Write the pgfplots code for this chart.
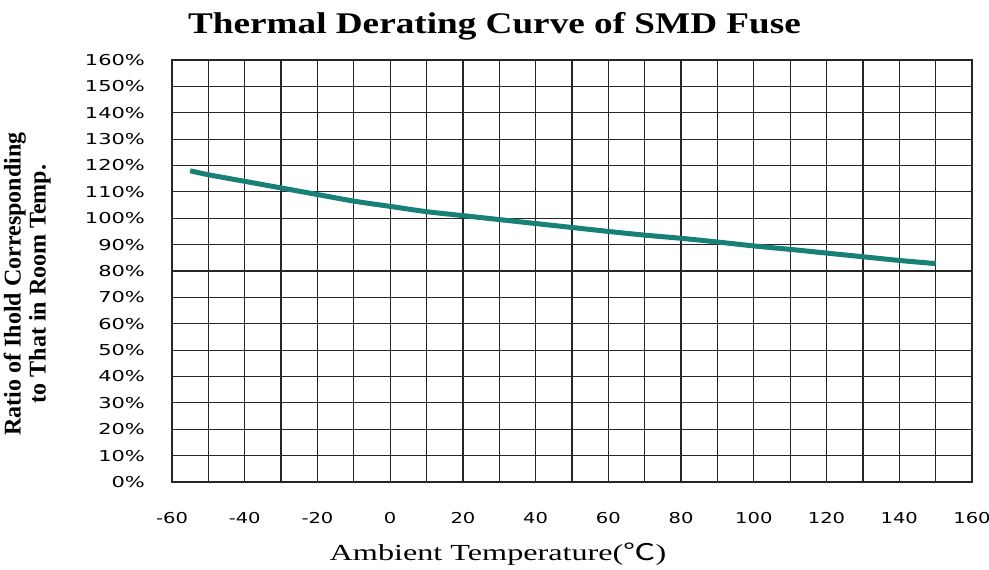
\documentclass[border=0pt]{standalone}
\usepackage{pgfplots}
\pgfplotsset{compat=1.18}
\usepackage{graphicx}
\usepackage{fontspec}
\setmainfont{Liberation Serif}
\newfontfamily\tickfont{DejaVu Sans}
\newfontfamily\cjk{Noto Sans CJK SC}
\definecolor{curve}{RGB}{24,128,118}

\begin{document}
\begin{tikzpicture}
    % frame of the picture: 989x569 px at 0.5pt per px
    \path[use as bounding box] (-86pt,-43.5pt) rectangle (408.5pt,241pt);
    \begin{axis}[at={(0,0)}, anchor=south west, scale only axis,
        width=400pt, height=211pt,
        xmin=-60, xmax=160, ymin=0, ymax=160,
        xtick={-60,-40,...,160}, ytick={0,10,...,160},
        minor xtick={-50,-30,...,150},
        grid=both, major grid style={black!85, line width=0.6pt},
        minor grid style={black!85, line width=0.6pt},
        axis line style={black!85, line width=0.8pt},
        major tick length=0pt, minor tick length=0pt,
        xticklabel={\tickfont\fontsize{7.5}{8}\selectfont\scalebox{1.3}[1]{\pgfmathprintnumber{\tick}}},
        yticklabel={\tickfont\fontsize{7.5}{8}\selectfont\scalebox{1.4}[1]{\pgfmathprintnumber{\tick}\%}},
        xticklabel style={yshift=-11.5pt},
        yticklabel style={xshift=-10pt},
        /pgf/number format/assume math mode=true,
        xlabel={\scalebox{1.4}[1]{\fontsize{11.5}{13}\selectfont Ambient Temperature({\cjk ℃})}},
        xlabel style={yshift=-3pt, xshift=-37pt},
        ylabel={\fontsize{12}{12.5}\selectfont\bfseries\begin{tabular}{c}Ratio of Ihold Corresponding\\to That in Room Temp.\end{tabular}},
        ylabel style={yshift=9pt, xshift=-6.5pt},
    ]
        \addplot[color=curve, line width=2.5pt, smooth] coordinates {
            (-55,118) (-50,116.5) (-40,114) (-30,111.5) (-20,109) (-10,106.5)
            (0,104.5) (10,102.5) (20,101) (30,99.5) (40,98) (50,96.5)
            (60,95) (70,93.6) (80,92.4) (90,91) (100,89.5) (110,88.2)
            (120,86.8) (130,85.4) (140,84) (150,82.8)};
    \end{axis}
    \node[font=\fontsize{15}{17}\selectfont\bfseries] at (161.25pt,228pt)
        {\scalebox{1.24}[1]{Thermal Derating Curve of SMD Fuse}};
\end{tikzpicture}
\end{document}
